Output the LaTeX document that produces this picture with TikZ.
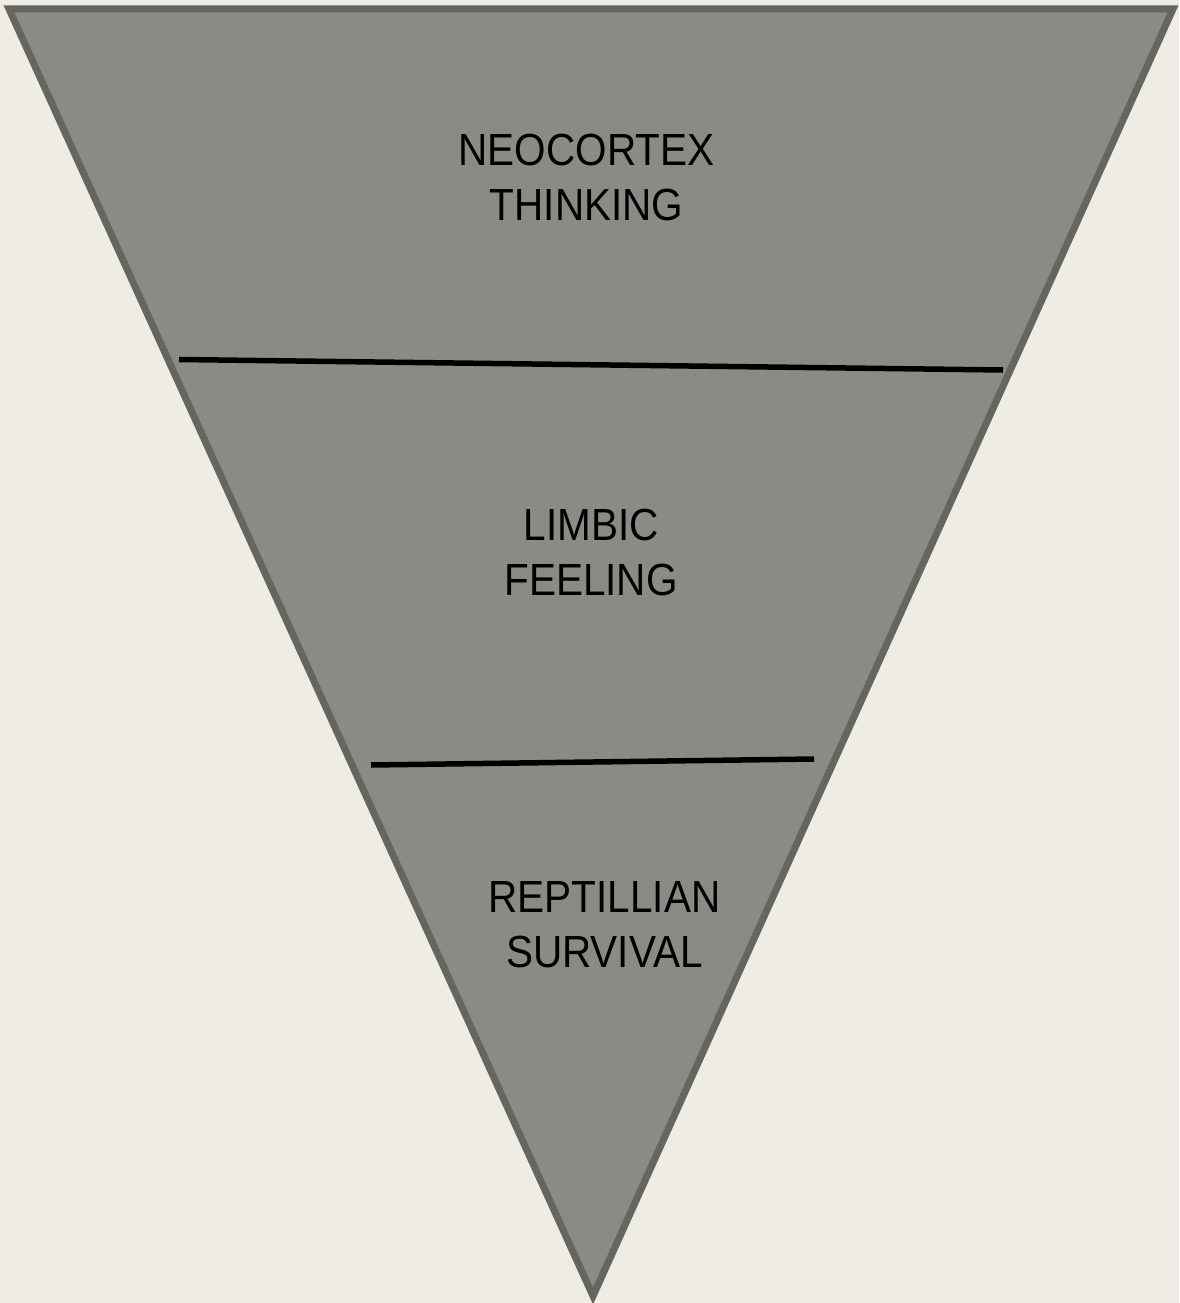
\documentclass[tikz,border=0pt]{standalone}
\usepackage{fontspec}
\setmainfont{Liberation Sans}[FakeStretch=0.9]
\definecolor{bg}{HTML}{EEECE4}
\definecolor{tri}{HTML}{8A8B84}
\definecolor{edge}{HTML}{65665F}
\begin{document}
\begin{tikzpicture}[x=1pt,y=-1pt,
  lbl/.style={font=\fontsize{45}{55}\selectfont, align=center, text=black, inner sep=0pt},
  divider/.style={draw=black, line width=5.5pt}]
\fill[bg] (0,0) rectangle (1179,1303);
\useasboundingbox (0,0) rectangle (1179,1303);
\coordinate (tl) at (9,9);
\coordinate (tr) at (1173,9);
\coordinate (bt) at (593,1296);
\fill[tri] (tl) -- (tr) -- (bt) -- cycle;
\draw[edge, line width=7pt, line join=miter] (tl) -- (tr) -- (bt) -- cycle;
\coordinate (a1) at (179,359.5);
\coordinate (a2) at (1003,370);
\coordinate (b1) at (371,765);
\coordinate (b2) at (814,759);
\draw[divider] (a1) -- (a2);
\draw[divider] (b1) -- (b2);
\node[lbl] (neo) at (586.5,177.5) {NEOCORTEX\\THINKING};
\node[lbl] (lim) at (591,553) {LIMBIC\\FEELING};
\node[lbl] (rep) at (604.5,924.5) {REPTILLIAN\\SURVIVAL};
\end{tikzpicture}
\end{document}
